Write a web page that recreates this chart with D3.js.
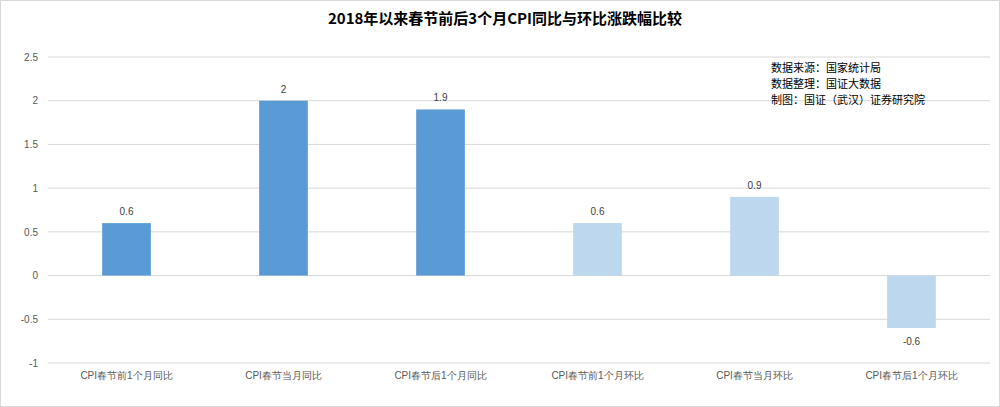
<!DOCTYPE html>
<html>
<head>
<meta charset="utf-8">
<script src="https://cdn.jsdelivr.net/npm/d3@7"></script>
<style>
  body { margin: 0; background: #fff; }
  svg { display: block; font-family: "Noto Sans CJK SC", "Microsoft YaHei", sans-serif; }
</style>
</head>
<body>
<div id="content"></div>
<script>
var categories = ["CPI春节前1个月同比", "CPI春节当月同比", "CPI春节后1个月同比", "CPI春节前1个月环比", "CPI春节当月环比", "CPI春节后1个月环比"];
var values = [0.6, 2, 1.9, 0.6, 0.9, -0.6];
var groups = ["yoy", "yoy", "yoy", "mom", "mom", "mom"];
var yTicks = [-1, -0.5, 0, 0.5, 1, 1.5, 2, 2.5];
var notes = ["数据来源：国家统计局", "数据整理：国证大数据", "制图：国证（武汉）证券研究院"];
var title = "2018年以来春节前后3个月CPI同比与环比涨跌幅比较";

var width = 1000, height = 407;
var margin = {t: 57, r: 10, b: 44, l: 48};

var svg = d3.select("#content")
            .append("svg")
            .attr("width", width)
            .attr("height", height);

// outer frame
svg.append("rect")
   .attr("x", 0.5).attr("y", 0.5)
   .attr("width", width - 1).attr("height", height - 1)
   .attr("fill", "#fff")
   .attr("stroke", "#d9d9d9");

svg.append("text")
   .attr("x", width / 2 + 5)
   .attr("y", 24)
   .attr("text-anchor", "middle")
   .attr("font-size", 15)
   .attr("font-weight", "bold")
   .attr("fill", "#000")
   .text(title);

var scaleX = d3.scaleBand()
               .domain(categories)
               .range([margin.l, width - margin.r])
               .paddingInner(0.69)
               .paddingOuter(0.345);

var scaleY = d3.scaleLinear()
               .domain([-1, 2.5])
               .range([height - margin.b, margin.t]);

// gridlines
svg.append("g")
   .selectAll("line")
   .data(yTicks)
   .enter()
   .append("line")
   .attr("x1", margin.l)
   .attr("x2", width - margin.r)
   .attr("y1", function(d) { return scaleY(d); })
   .attr("y2", function(d) { return scaleY(d); })
   .attr("stroke", "#d9d9d9")
   .attr("stroke-width", 1);

var axisY = d3.axisLeft(scaleY)
              .tickValues(yTicks)
              .tickSize(0)
              .tickPadding(10)
              .tickFormat(function(d) { return d; });
var axisYG = svg.append("g")
                .attr("transform", "translate(" + margin.l + ",0)")
                .call(axisY);
axisYG.select(".domain").remove();
axisYG.selectAll("text")
      .attr("font-size", 10)
      .attr("fill", "#595959")
      .attr("font-family", "Liberation Sans, Arial, sans-serif");

var axisX = d3.axisBottom(scaleX).tickSize(0).tickPadding(9);
var axisXG = svg.append("g")
                .attr("transform", "translate(0," + (height - margin.b) + ")")
                .call(axisX);
axisXG.select(".domain").remove();
axisXG.selectAll("text")
      .attr("font-size", 10)
      .attr("fill", "#595959");

// bars
svg.append("g")
   .selectAll("rect")
   .data(values)
   .enter()
   .append("rect")
   .attr("x", function(d, i) { return scaleX(categories[i]); })
   .attr("y", function(d) { return scaleY(Math.max(0, d)); })
   .attr("width", scaleX.bandwidth())
   .attr("height", function(d) { return Math.abs(scaleY(d) - scaleY(0)); })
   .attr("fill", function(d, i) { return groups[i] == "yoy" ? "#5b9bd5" : "#bdd7ee"; });

// value labels
svg.append("g")
   .selectAll("text")
   .data(values)
   .enter()
   .append("text")
   .attr("x", function(d, i) { return scaleX(categories[i]) + scaleX.bandwidth() / 2; })
   .attr("y", function(d) { return d >= 0 ? scaleY(d) - 8 : scaleY(d) + 17; })
   .attr("text-anchor", "middle")
   .attr("font-size", 10)
   .attr("fill", "#404040")
   .attr("font-family", "Liberation Sans, Arial, sans-serif")
   .text(function(d) { return d; });

// source notes
svg.append("g")
   .selectAll("text")
   .data(notes)
   .enter()
   .append("text")
   .attr("x", 771)
   .attr("y", function(d, i) { return 72 + i * 16; })
   .attr("font-size", 11)
   .attr("fill", "#000")
   .text(function(d) { return d; });
</script>
</body>
</html>
